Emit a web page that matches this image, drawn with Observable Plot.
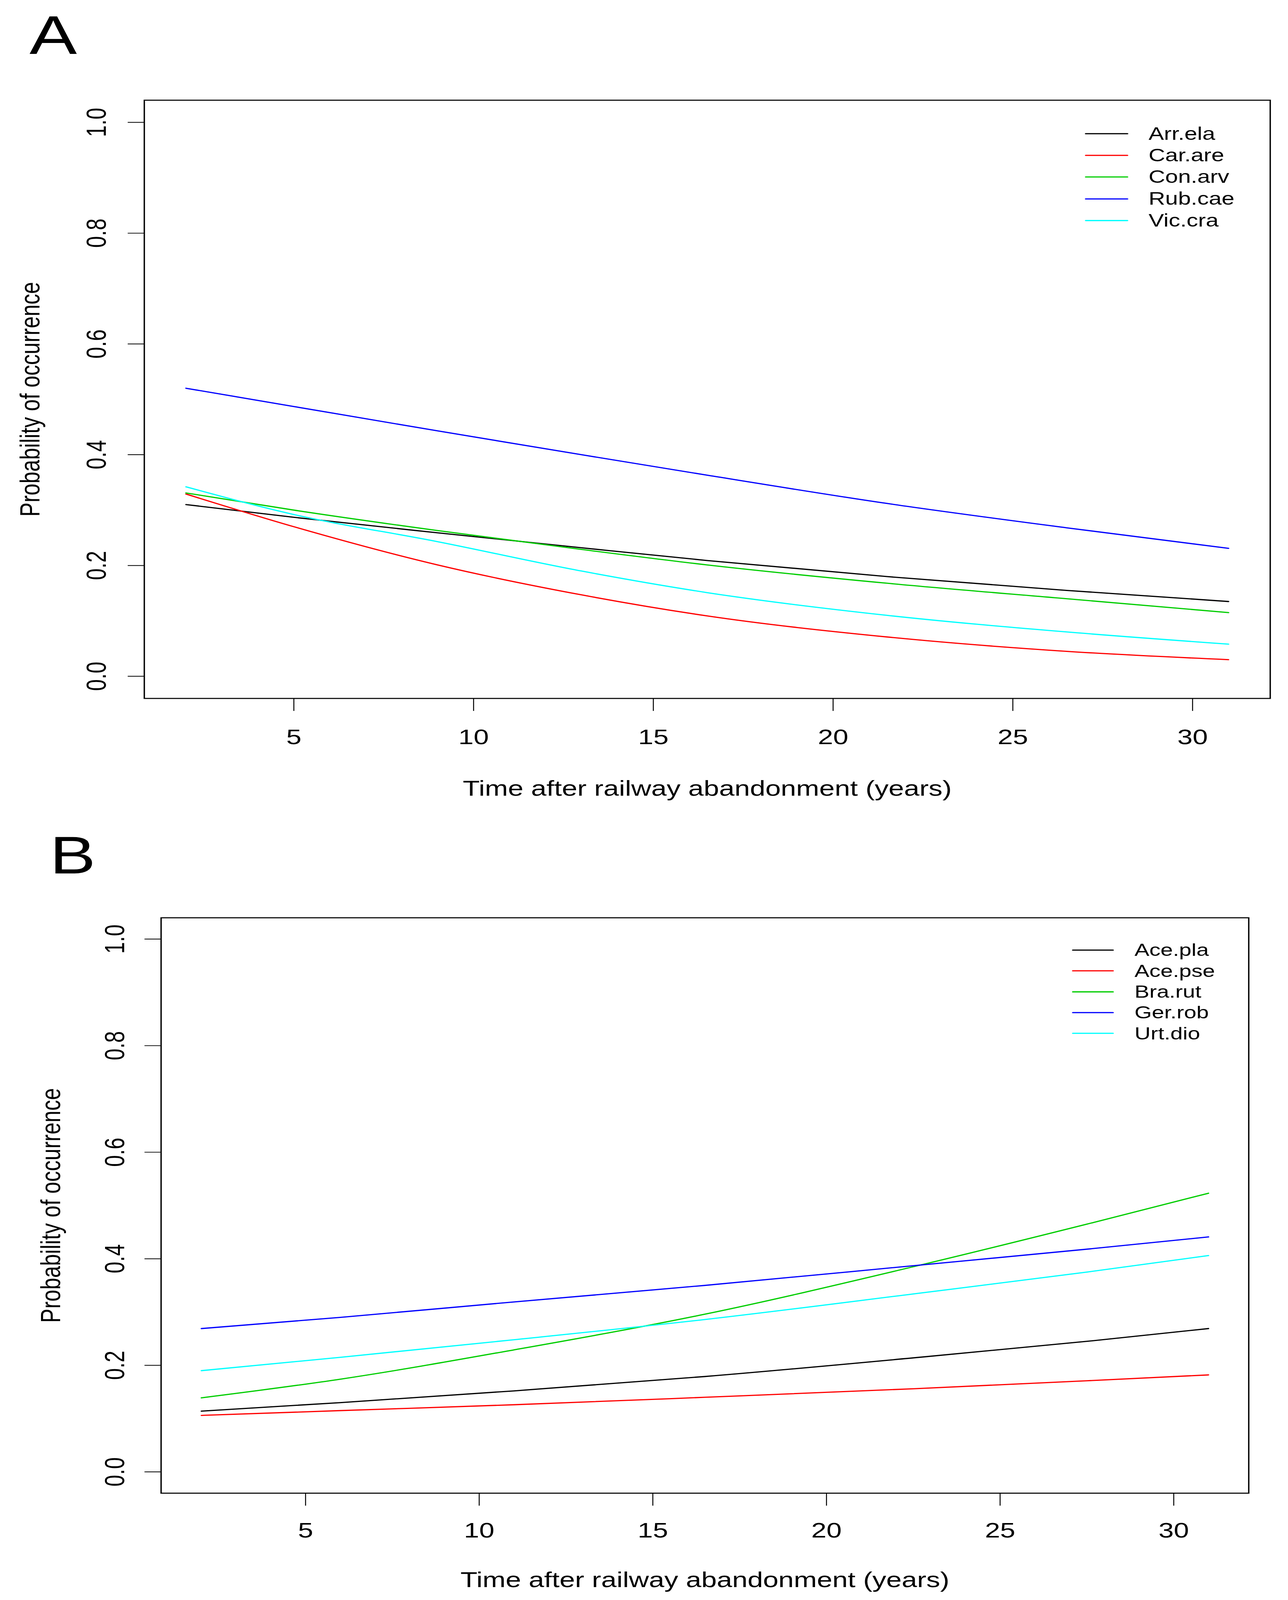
<!DOCTYPE html>
<html>
<head>
<meta charset="utf-8">
<script src="https://cdn.jsdelivr.net/npm/d3@7"></script>
<script src="https://cdn.jsdelivr.net/npm/@observablehq/plot@0.6"></script>
<style>
  html, body { margin: 0; padding: 0; background: #fff; overflow: hidden; }
  #page { position: relative; width: 3298px; height: 5325px; transform-origin: 0 0; font-family: "Liberation Sans", Arial, sans-serif; }
  #page svg { display: block; }
  .legend { position: absolute; font-family: "Liberation Sans", Arial, sans-serif; color: #000; }
  .legend .row { display: flex; align-items: center; }
  .legend .sw { display: inline-block; height: 4px; border-radius: 2px; }
</style>
</head>
<body>
<div id="page"></div>
<script>
// ---------- Data ----------
const xTicks = [5, 10, 15, 20, 25, 30];
const yTicks = [0, 0.2, 0.4, 0.6, 0.8, 1.0];
const xTitle = "Time after railway abandonment (years)";
const yTitle = "Probability of occurrence";
const seriesColors = ["#000000", "#FF0000", "#00CD00", "#0000FF", "#00FFFF"];

// Panel A
const speciesA = ["Arr.ela", "Car.are", "Con.arv", "Rub.cae", "Vic.cra"];
const timesA = [2, 5, 9, 13, 16.5, 21.5, 26.5, 31];
const arrEla = [0.310, 0.287, 0.259, 0.232, 0.209, 0.180, 0.155, 0.135];
const carAre = [0.329, 0.270, 0.201, 0.147, 0.109, 0.071, 0.045, 0.030];
const conArv = [0.331, 0.300, 0.263, 0.229, 0.201, 0.168, 0.140, 0.115];
const rubCae = [0.520, 0.487, 0.443, 0.400, 0.363, 0.312, 0.268, 0.231];
const vicCra = [0.342, 0.292, 0.243, 0.190, 0.151, 0.110, 0.080, 0.058];

// Panel B
const speciesB = ["Ace.pla", "Ace.pse", "Bra.rut", "Ger.rob", "Urt.dio"];
const timesB = [2, 6, 11, 16.5, 22.5, 27.5, 31];
const acePla = [0.114, 0.130, 0.152, 0.179, 0.214, 0.245, 0.269];
const acePse = [0.106, 0.115, 0.126, 0.140, 0.156, 0.171, 0.182];
const braRut = [0.139, 0.174, 0.229, 0.296, 0.385, 0.465, 0.523];
const gerRob = [0.269, 0.290, 0.319, 0.350, 0.387, 0.418, 0.441];
const urtDio = [0.190, 0.215, 0.248, 0.286, 0.334, 0.375, 0.406];

// ---------- Build ----------
function toRows(times, species, valueArrays) {
  const rows = [];
  species.forEach((s, i) => times.forEach((t, j) => rows.push({species: s, t, p: valueArrays[i][j]})));
  return rows;
}

const FONT = '"Liberation Sans", Arial, sans-serif';

function panel(o) {
  const rows = toRows(o.times, o.species, o.values);
  return Plot.plot({
    width: 3298,
    height: o.height,
    marginTop: o.marginTop,
    marginBottom: o.marginBottom,
    marginLeft: o.marginLeft,
    marginRight: o.marginRight,
    style: {fontFamily: FONT, fontSize: "70px", color: "#000", background: "#fff", overflow: "visible"},
    x: {domain: [0.84, 32.16]},
    y: {domain: [-0.04, 1.04]},
    color: {domain: o.species, range: seriesColors},
    marks: [
      Plot.line(rows, {x: "t", y: "p", z: "species", stroke: "species", strokeWidth: 4, curve: "monotone-x"}),
      Plot.frame({stroke: "#000", strokeWidth: 3.5}),
      Plot.axisX({ticks: xTicks, tickSize: 42, tickPadding: o.tickPad, strokeWidth: 2.5, fontSize: 70, label: null, tickFormat: d => String(d)}),
      Plot.axisY({ticks: yTicks, tickSize: 42, strokeWidth: 2.5, label: null, tickFormat: () => ""}),
      Plot.text(yTicks, {y: d => d, text: d => d.toFixed(1), frameAnchor: "left", dx: o.yTickDx, rotate: -90, textAnchor: "middle", lineAnchor: "bottom", fontSize: 70}),
      Plot.text([yTitle], {text: d => d, frameAnchor: "left", dx: o.yTitleDx, rotate: -90, textAnchor: "middle", lineAnchor: "bottom", fontSize: 71}),
      Plot.text([xTitle], {text: d => d, frameAnchor: "bottom", dy: o.xTitleDy, textAnchor: "middle", lineAnchor: "bottom", fontSize: 71}),
      Plot.text([o.letter], {text: d => d, frameAnchor: "top-left", dx: o.letterDx, dy: o.letterDy, textAnchor: "start", lineAnchor: "bottom", fontSize: o.letterSize})
    ]
  });
}

function legend(species, o) {
  const div = document.createElement("div");
  div.className = "legend";
  div.style.left = o.left + "px";
  div.style.top = (o.firstRow - o.rowH / 2) + "px";
  species.forEach((s, i) => {
    const row = document.createElement("div");
    row.className = "row";
    row.style.height = o.rowH + "px";
    const sw = document.createElement("span");
    sw.className = "sw";
    sw.style.width = o.lineW + "px";
    sw.style.background = seriesColors[i];
    sw.style.marginRight = o.gap + "px";
    const tx = document.createElement("span");
    tx.textContent = s;
    tx.style.fontSize = o.fontSize + "px";
    tx.style.lineHeight = o.rowH + "px";
    row.appendChild(sw);
    row.appendChild(tx);
    div.appendChild(row);
  });
  return div;
}

const page = document.getElementById("page");

page.appendChild(panel({
  times: timesA, species: speciesA, values: [arrEla, carAre, conArv, rubCae, vicCra],
  height: 2720, marginTop: 333, marginBottom: 396, marginLeft: 369, marginRight: 46,
  yTickDx: -99, yTitleDx: -269, xTitleDy: 324, tickPad: 60,
  letter: "A", letterDx: -294, letterDy: -154, letterSize: 182
}));

page.appendChild(panel({
  times: timesB, species: speciesB, values: [acePla, acePse, braRut, gerRob, urtDio],
  height: 2605, marginTop: 334, marginBottom: 356, marginLeft: 412, marginRight: 101,
  yTickDx: -95, yTitleDx: -259, xTitleDy: 313, tickPad: 56,
  letter: "B", letterDx: -285, letterDy: -148, letterSize: 176
}));

page.appendChild(legend(speciesA, {left: 2778, firstRow: 445, rowH: 72.2, lineW: 111, gap: 52, fontSize: 59}));
page.appendChild(legend(speciesB, {left: 2745, firstRow: 3162, rowH: 69.3, lineW: 107, gap: 53, fontSize: 57}));

// Fit the full 3298x5325 figure into the visible viewport height if it is shorter.
const viewH = window.innerHeight || document.documentElement.clientHeight || 5325;
const ky = Math.min(1, viewH / 5325);
if (ky < 1) page.style.transform = `scale(1, ${ky})`;
</script>
</body>
</html>
